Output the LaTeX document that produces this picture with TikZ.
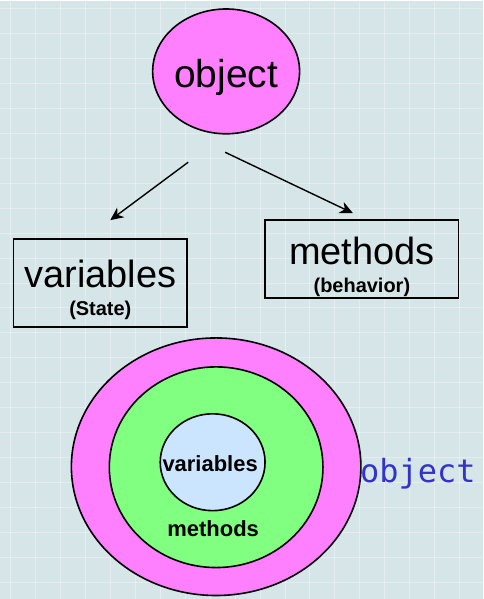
\documentclass[tikz,border=0pt]{standalone}
\usepackage{fontspec}
\setmainfont{Liberation Sans}
\newfontfamily\labelmono{DejaVu Sans Mono}
\usepackage{xcolor}
\usetikzlibrary{shapes, shapes.geometric, arrows, arrows.meta, positioning}

\definecolor{bgblue}{RGB}{214,230,232}
\definecolor{objpink}{RGB}{255,128,255}
\definecolor{methgreen}{RGB}{128,255,128}
\definecolor{varblue}{RGB}{204,229,255}
\definecolor{labelblue}{RGB}{51,51,204}

\newcommand{\subtextfont}{\fontsize{20}{22}\selectfont\bfseries}

\begin{document}
\begin{tikzpicture}[x=1pt, y=-1pt,
    % Styles
    bubble/.style={ellipse, draw=black, line width=1.6pt, fill=objpink, inner sep=0pt},
    textbox/.style={rectangle, draw=black, line width=1.4pt, fill=none, inner sep=0pt, align=center, font=\fontsize{38}{28}\selectfont},
    ringlabel/.style={inner sep=0pt, font=\fontsize{22}{24}\selectfont\bfseries},
    gridline/.style={white, opacity=0.35, line width=1pt},
    arrow/.style={-{Stealth[length=13pt, width=12pt, inset=4pt]}, line width=1.4pt}
]

    % --- Background ---
    \fill[bgblue] (0,0) rectangle (483,599);
    \foreach \gx in {10,35,...,483} {
        \draw[gridline] (\gx,0) -- (\gx,599);
    }
    \foreach \gy in {8,33,...,599} {
        \draw[gridline] (0,\gy) -- (483,\gy);
    }

    % --- Top: object with its two parts ---
    \node[bubble, minimum width=134pt, minimum height=125pt, text height=40pt, text depth=8pt, font=\fontsize{39}{40}\selectfont] (obj) at (226,71) {object};

    \node[textbox, minimum width=174pt, minimum height=88pt] (vars) at (100,283) {\rule{0pt}{42pt}variables\\{\subtextfont (State)}};
    \node[textbox, minimum width=194pt, minimum height=78pt] (meths) at (362,259) {\rule{0pt}{44pt}methods\\{\subtextfont (behavior)}};

    % free ends of the arrows
    \coordinate (lfrom) at (188,162);
    \coordinate (lto) at (110,220);
    \coordinate (rfrom) at (225,152);
    \coordinate (rto) at (353,213);

    \draw[arrow] (lfrom) -- (lto);
    \draw[arrow] (rfrom) -- (rto);

    % --- Bottom: nested view ---
    \node[bubble, minimum width=290pt, minimum height=258pt] (outer) at (216,467) {};
    \node[bubble, fill=methgreen, minimum width=214pt, minimum height=201pt] (ring) at (216,467.5) {};
    \node[bubble, fill=varblue, minimum width=105pt, minimum height=97pt] (core) at (212.5,462.5) {};

    \node[ringlabel] (corelbl) at (210,464) {variables};
    \node[ringlabel] (ringlbl) at (213,529.5) {methods};

    \node[anchor=base west, inner sep=0pt, text=labelblue, font=\labelmono\fontsize{32}{34}\selectfont] (objlbl) at (360,483) {object};

\end{tikzpicture}
\end{document}
